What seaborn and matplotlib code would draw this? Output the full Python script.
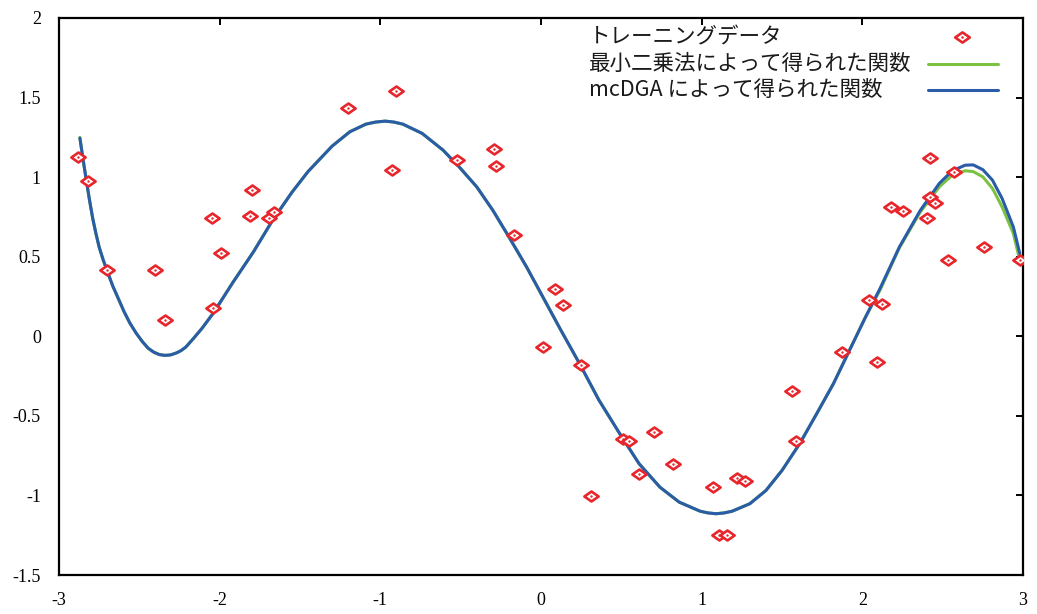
import numpy as np
import pandas as pd
import matplotlib
matplotlib.use('Agg')
import matplotlib.pyplot as plt
from matplotlib.path import Path
from matplotlib.lines import Line2D
import seaborn as sns

sns.set_theme(style='white')
plt.rcParams['axes.unicode_minus'] = False

RED = '#e8252b'
GREEN = '#7cc242'
BLUE = '#2a5ca8'

# training data
train_x = [-2.88, -2.82, -2.70, -2.40, -2.34, -2.04, -2.05, -1.99, -1.81, -1.80,
           -1.69, -1.66, -1.20, -0.905, -0.93, -0.52, -0.29, -0.28, -0.17, 0.09,
           0.14, 0.01, 0.25, 0.31, 0.51, 0.545, 0.705, 0.61, 0.82, 1.07,
           1.11, 1.155, 1.22, 1.27, 1.56, 1.585, 1.875, 2.09, 2.04, 2.12,
           2.18, 2.255, 2.40, 2.42, 2.45, 2.42, 2.57, 2.535, 2.76, 2.98]
train_y = [1.126, 0.975, 0.415, 0.415, 0.10, 0.176, 0.742, 0.522, 0.755, 0.918,
           0.742, 0.78, 1.434, 1.54, 1.044, 1.107, 1.176, 1.069, 0.635, 0.296,
           0.195, -0.069, -0.182, -1.006, -0.648, -0.66, -0.604, -0.868, -0.805, -0.95,
           -1.25, -1.25, -0.893, -0.912, -0.346, -0.66, -0.10, -0.164, 0.226, 0.20,
           0.81, 0.79, 0.742, 0.874, 0.836, 1.12, 1.03, 0.478, 0.56, 0.478]

# fitted curves
curve_x = [-2.87, -2.85, -2.83, -2.81, -2.79, -2.77, -2.75, -2.725, -2.70, -2.665,
           -2.63, -2.595, -2.56, -2.52, -2.48, -2.445, -2.41, -2.375, -2.34, -2.305,
           -2.27, -2.24, -2.21, -2.16, -2.11, -2.04, -1.92, -1.79, -1.67, -1.55,
           -1.45, -1.30, -1.19, -1.09, -1.03, -0.97, -0.915, -0.86, -0.74, -0.61,
           -0.51, -0.40, -0.30, -0.20, -0.09, 0.01, 0.12, 0.24, 0.36, 0.49,
           0.61, 0.74, 0.86, 0.99, 1.04, 1.09, 1.14, 1.19, 1.30, 1.40,
           1.50, 1.61, 1.71, 1.82, 1.92, 2.02, 2.11, 2.23, 2.36, 2.48,
           2.56, 2.64, 2.69, 2.75, 2.81, 2.87, 2.94, 2.98]
dga_y = [1.245, 1.11, 0.98, 0.855, 0.74, 0.645, 0.56, 0.48, 0.41, 0.315,
         0.235, 0.155, 0.085, 0.02, -0.035, -0.075, -0.10, -0.115, -0.12, -0.117,
         -0.105, -0.09, -0.067, -0.01, 0.05, 0.145, 0.335, 0.53, 0.73, 0.905,
         1.035, 1.195, 1.285, 1.333, 1.346, 1.352, 1.346, 1.333, 1.275, 1.17,
         1.065, 0.939, 0.792, 0.625, 0.436, 0.25, 0.045, -0.172, -0.40, -0.612,
         -0.80, -0.948, -1.042, -1.099, -1.11, -1.115, -1.11, -1.099, -1.052, -0.969,
         -0.843, -0.675, -0.497, -0.298, -0.088, 0.121, 0.30, 0.56, 0.79, 0.962,
         1.04, 1.075, 1.077, 1.047, 0.981, 0.866, 0.687, 0.52]
ls_y = [1.25, 1.11, 0.98, 0.855, 0.74, 0.645, 0.56, 0.48, 0.41, 0.315,
        0.235, 0.155, 0.085, 0.02, -0.035, -0.075, -0.10, -0.115, -0.12, -0.117,
        -0.105, -0.09, -0.067, -0.01, 0.05, 0.145, 0.335, 0.53, 0.73, 0.905,
        1.035, 1.195, 1.285, 1.333, 1.346, 1.352, 1.346, 1.333, 1.275, 1.17,
        1.065, 0.939, 0.792, 0.625, 0.436, 0.25, 0.045, -0.172, -0.40, -0.612,
        -0.80, -0.948, -1.042, -1.099, -1.11, -1.115, -1.11, -1.099, -1.052, -0.969,
        -0.843, -0.675, -0.497, -0.298, -0.088, 0.121, 0.29, 0.555, 0.78, 0.94,
        1.013, 1.04, 1.035, 1.002, 0.929, 0.813, 0.646, 0.478]

labels = ['トレーニングデータ', '最小二乗法によって得られた関数', 'mcDGA によって得られた関数']
x_ticks = [-3, -2, -1, 0, 1, 2, 3]
y_ticks = [-1.5, -1, -0.5, 0, 0.5, 1, 1.5, 2]

df_train = pd.DataFrame({'x': train_x, 'y': train_y})
df_curve = pd.DataFrame({'x': curve_x, 'ls': ls_y, 'dga': dga_y})

W, H = 1037, 614
fig = plt.figure(figsize=(W / 100, H / 100), dpi=100)
ax = fig.add_axes([59/W, 39/H, 964/W, 557/H])

sns.lineplot(data=df_curve, x='x', y='ls', ax=ax, color=GREEN, lw=2.2, estimator=None, sort=False)
sns.lineplot(data=df_curve, x='x', y='dga', ax=ax, color=BLUE, lw=2.2, estimator=None, sort=False)

diamond = Path([(0, 0.7), (1, 0), (0, -0.7), (-1, 0), (0, 0.7)],
               [Path.MOVETO, Path.LINETO, Path.LINETO, Path.LINETO, Path.CLOSEPOLY])
sns.scatterplot(data=df_train, x='x', y='y', ax=ax, marker=diamond, s=105,
                color='white', edgecolor=RED, linewidth=1.9, zorder=5)
sns.scatterplot(data=df_train, x='x', y='y', ax=ax, marker='o', s=3,
                color=RED, linewidth=0, zorder=6)

ax.set_xlim(-3, 3)
ax.set_ylim(-1.5, 2)
ax.set_xticks(x_ticks)
ax.set_yticks(y_ticks)
ax.set_xticklabels([f'{t:g}' for t in x_ticks])
ax.set_yticklabels([f'{t:g}' for t in y_ticks])
ax.set_xlabel('')
ax.set_ylabel('')
for s in ax.spines.values():
    s.set_linewidth(1.6)
    s.set_color('black')
ax.tick_params(direction='in', length=5, width=1.4, top=True, right=True,
               labelsize=13, colors='black')
ax.tick_params(axis='x', pad=12)
ax.tick_params(axis='y', pad=13)
for lab in ax.get_xticklabels() + ax.get_yticklabels():
    lab.set_family('Liberation Serif')

# key, gnuplot style: text left, samples on the right
row_y = [37, 64, 90]
for lbl, ry in zip(labels, row_y):
    fig.text(589 / W, 1 - ry / H, lbl, ha='left', va='center', color='#1a1a1a',
             family=['Noto Sans CJK JP', 'DejaVu Sans'], fontsize=15.5)
fig.add_artist(Line2D([962 / W], [1 - 36.5 / H], ls='none', marker=diamond, markersize=10.5,
                      mfc='white', mec=RED, mew=1.9, transform=fig.transFigure))
fig.add_artist(Line2D([962 / W], [1 - 36.5 / H], ls='none', marker='o', markersize=1.8,
                      mfc=RED, mec=RED, mew=0, transform=fig.transFigure))
fig.add_artist(Line2D([928 / W, 998 / W], [1 - 64 / H] * 2, color=GREEN, lw=2.2,
                      transform=fig.transFigure))
fig.add_artist(Line2D([928 / W, 998 / W], [1 - 90 / H] * 2, color=BLUE, lw=2.2,
                      transform=fig.transFigure))

fig.savefig('out.png', dpi=100, facecolor='white')
